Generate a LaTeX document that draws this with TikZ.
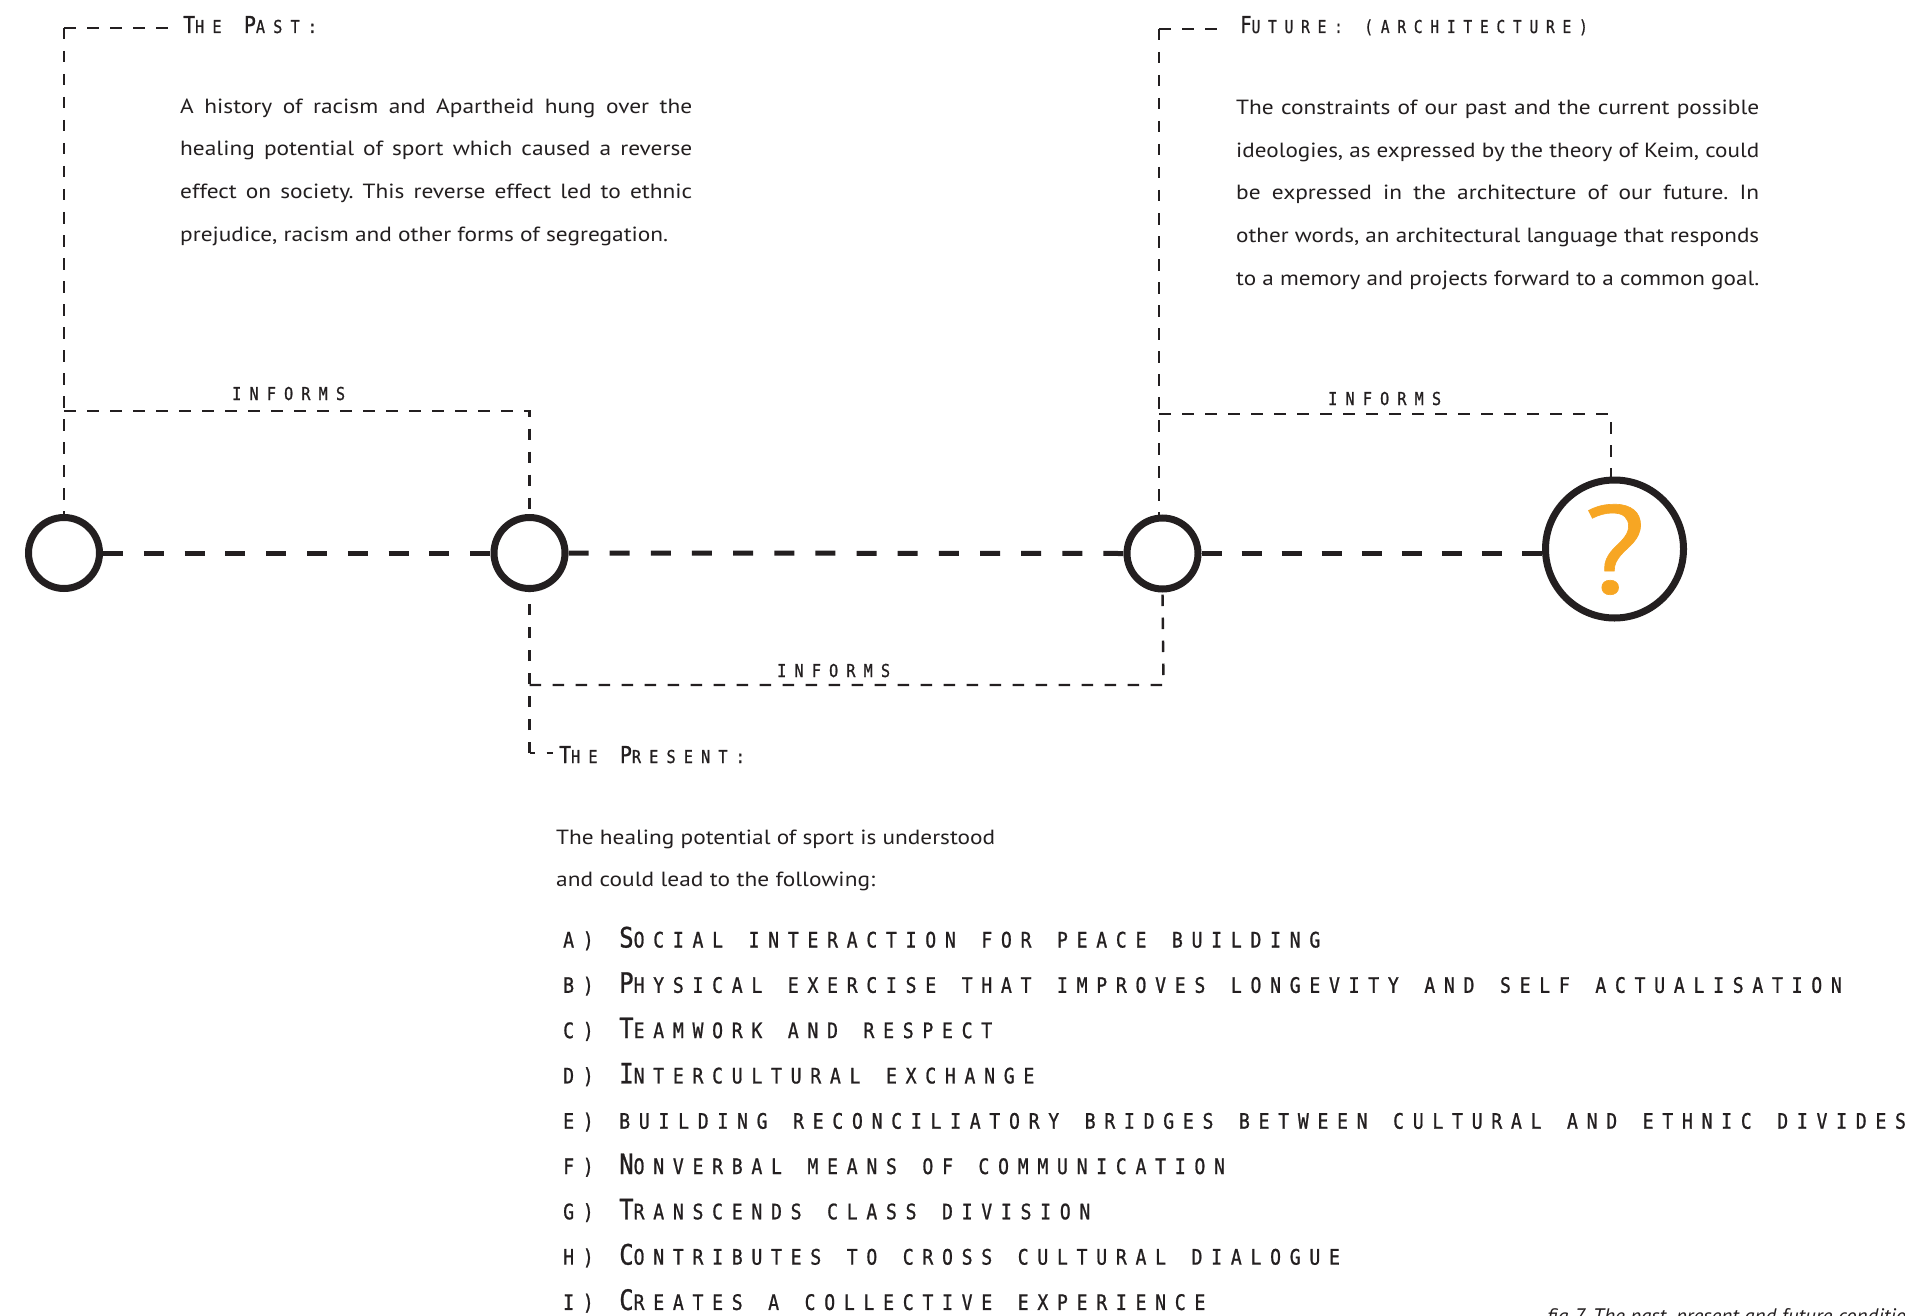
\documentclass[tikz,border=0pt]{standalone}
\usepackage{graphicx}
\usepackage{fontspec}
\setmainfont{PT Sans}
\newfontfamily\pfont[FakeStretch=1.14]{PT Sans}
\newfontfamily\capfont{PT Sans}
\newfontfamily\qfont[FakeStretch=1.15,FakeBold=0.5]{PT Sans}
\newfontfamily\hdfont[FakeStretch=0.85,LetterSpace=46,WordSpace=1.3,FakeBold=0.9]{DejaVu Sans Mono}
\newfontfamily\lifont[FakeStretch=0.85,LetterSpace=41,WordSpace=1.3,FakeBold=0.9]{DejaVu Sans Mono}
\definecolor{ink}{RGB}{35,31,32}
\definecolor{qorange}{RGB}{247,166,35}
\frenchspacing
\newcommand\hdbig[1]{{\fontsize{23.3}{24}\selectfont #1}}
\newcommand\hdsm[1]{{\fontsize{17.8}{18}\selectfont\MakeUppercase{#1}}}
\newcommand\libig[1]{{\fontsize{28.1}{28}\selectfont #1}}
\newcommand\lism[1]{{\fontsize{21.3}{21}\selectfont\MakeUppercase{#1}}}
\newlength\jlw
\newcommand\jline[2]{\settowidth\jlw{#2}%
  \ifdim\jlw>#1pt\relax
    \pgfmathsetmacro\jlr{#1/\jlw}\scalebox{\jlr}[1]{#2}%
  \else
    \makebox[#1pt][s]{#2}%
  \fi}
\tikzset{
  thickdash/.style={draw=ink, line width=5pt, dash pattern=on 20pt off #1pt},
  thickdash/.default=21,
  thindash/.style={draw=ink, line width=2.4pt, dash pattern=on 11.5pt off 11.5pt},
  dot/.style={circle, draw=ink, line width=7pt, minimum size=71pt, inner sep=0pt},
  bigdot/.style={circle, draw=ink, line width=7pt, minimum size=138pt, inner sep=0pt},
  head/.style={anchor=base west, inner sep=0pt, text=ink, font=\hdfont},
  para/.style={anchor=base west, inner sep=0pt, text=ink, font=\pfont\fontsize{20.5}{42.6}\selectfont},
}
\begin{document}
\begin{tikzpicture}[x=1pt,y=-1pt]
\fill[white] (0,0) rectangle (1905,1316);
\useasboundingbox (0,0) rectangle (1905,1316);

% circles
\node[dot] (c1) at (64,553) {};
\node[dot] (c2) at (529.5,553) {};
\node[dot] (c3) at (1162.5,553.5) {};
\node[bigdot] (c4) at (1614.5,549) {};
\node[inner sep=0pt, text=qorange, font=\qfont\fontsize{125}{125}\selectfont] (qm) at (1614.5,549.5) {?};

% timeline
\draw[thickdash=20.8] (c1.east) -- (c2.west);
\draw[thickdash=21.15] (c2.east) -- (c3.west);
\draw[thickdash=20.06] (c3.east) -- (c3.east -| c4.west);

% the past
\coordinate (pastcorner) at (64,28);
\node[head] (pastlbl) at (183,33) {\hdbig{T}\hdsm{he }\hdbig{P}\hdsm{ast:}};
\draw[thindash] (pastcorner) -- (c1.north);
\draw[thindash, shorten >=13pt] (pastcorner) -- (pastcorner -| pastlbl.west);
\node[para] (pastpara) at (180,113.3) {\parbox[t]{512pt}{%
\jline{512}{A history of racism and Apartheid hung over the}\\
\jline{512}{healing potential of sport which caused a reverse}\\
\jline{512}{effect on society. This reverse effect led to ethnic}\\
\jline{488}{prejudice, racism and other forms of segregation.}}};

% informs 1
\coordinate (inf1a) at (64,411);
\coordinate (inf1b) at (529.5,411);
\draw[thindash] (inf1a) -- (inf1b) -- (c2.north);
\node[head] (inf1) at (232,400) {\hdsm{informs}};

% the present
\coordinate (prescorner) at (529.5,753);
\node[head] (preslbl) at (559,763) {\hdbig{T}\hdsm{he }\hdbig{P}\hdsm{resent:}};
\draw[thindash] (prescorner) -- (c2.south);
\draw[draw=ink, line width=2.4pt, dash pattern=on 5pt off 12pt on 6pt off 100pt] (prescorner) -- (prescorner -| preslbl.west);
\node[para, font=\pfont\fontsize{20.5}{42}\selectfont] (prespara) at (556,844) {\parbox[t]{439pt}{%
\jline{439}{The healing potential of sport is understood}\\
\jline{319}{and could lead to the following:}}};

% informs 2
\coordinate (inf2a) at (529.5,685);
\coordinate (inf2b) at (1163.5,685);
\draw[thindash] (inf2a) -- (inf2b) -- (c3.south);
\node[head] (inf2) at (777,677) {\hdsm{informs}};

% future
\coordinate (futcorner) at (1159,29);
\node[head] (futlbl) at (1240,33) {\scalebox{0.955}[1]{\hdbig{F}\hdsm{uture: (architecture)}}};
\draw[thindash] (futcorner) -- (futcorner |- c3.north);
\draw[thindash, shorten >=20pt] (futcorner) -- (futcorner -| futlbl.west);
\node[para] (futpara) at (1236,114.8) {\parbox[t]{523pt}{%
\jline{523}{The constraints of our past and the current possible}\\
\jline{523}{ideologies, as expressed by the theory of Keim, could}\\
\jline{523}{be expressed in the architecture of our future. In}\\
\jline{523}{other words, an architectural language that responds}\\
\jline{523}{to a memory and projects forward to a common goal.}}};

% informs 3
\coordinate (inf3a) at (1159,414);
\coordinate (inf3b) at (1611,414);
\draw[thindash] (inf3a) -- (inf3b) -- (inf3b |- c4.north);
\node[head] (inf3) at (1328,405) {\hdsm{informs}};

% list
\node[head, font=\lifont\fontsize{21.3}{45.3}\selectfont] (list) at (563,947.5) {\parbox[t]{1400pt}{\raggedright
\lism{a) }\libig{S}\lism{ocial interaction for peace building}\\
\lism{b) }\libig{P}\lism{hysical exercise that improves longevity and self actualisation}\\
\lism{c) }\libig{T}\lism{eamwork and respect}\\
\lism{d) }\libig{I}\lism{ntercultural exchange}\\
\lism{e) building reconciliatory bridges between cultural and ethnic divides}\\
\lism{f) }\libig{N}\lism{onverbal means of communication}\\
\lism{g) }\libig{T}\lism{ranscends class division}\\
\lism{h) }\libig{C}\lism{ontributes to cross cultural dialogue}\\
\lism{i) }\libig{C}\lism{reates a collective experience}}};

% caption
\node[anchor=base west, inner sep=0pt, text=ink, font=\capfont\itshape\fontsize{21}{21}\selectfont] (cap) at (1547,1323) {fig 7. The past, present and future conditions};
\end{tikzpicture}
\end{document}
